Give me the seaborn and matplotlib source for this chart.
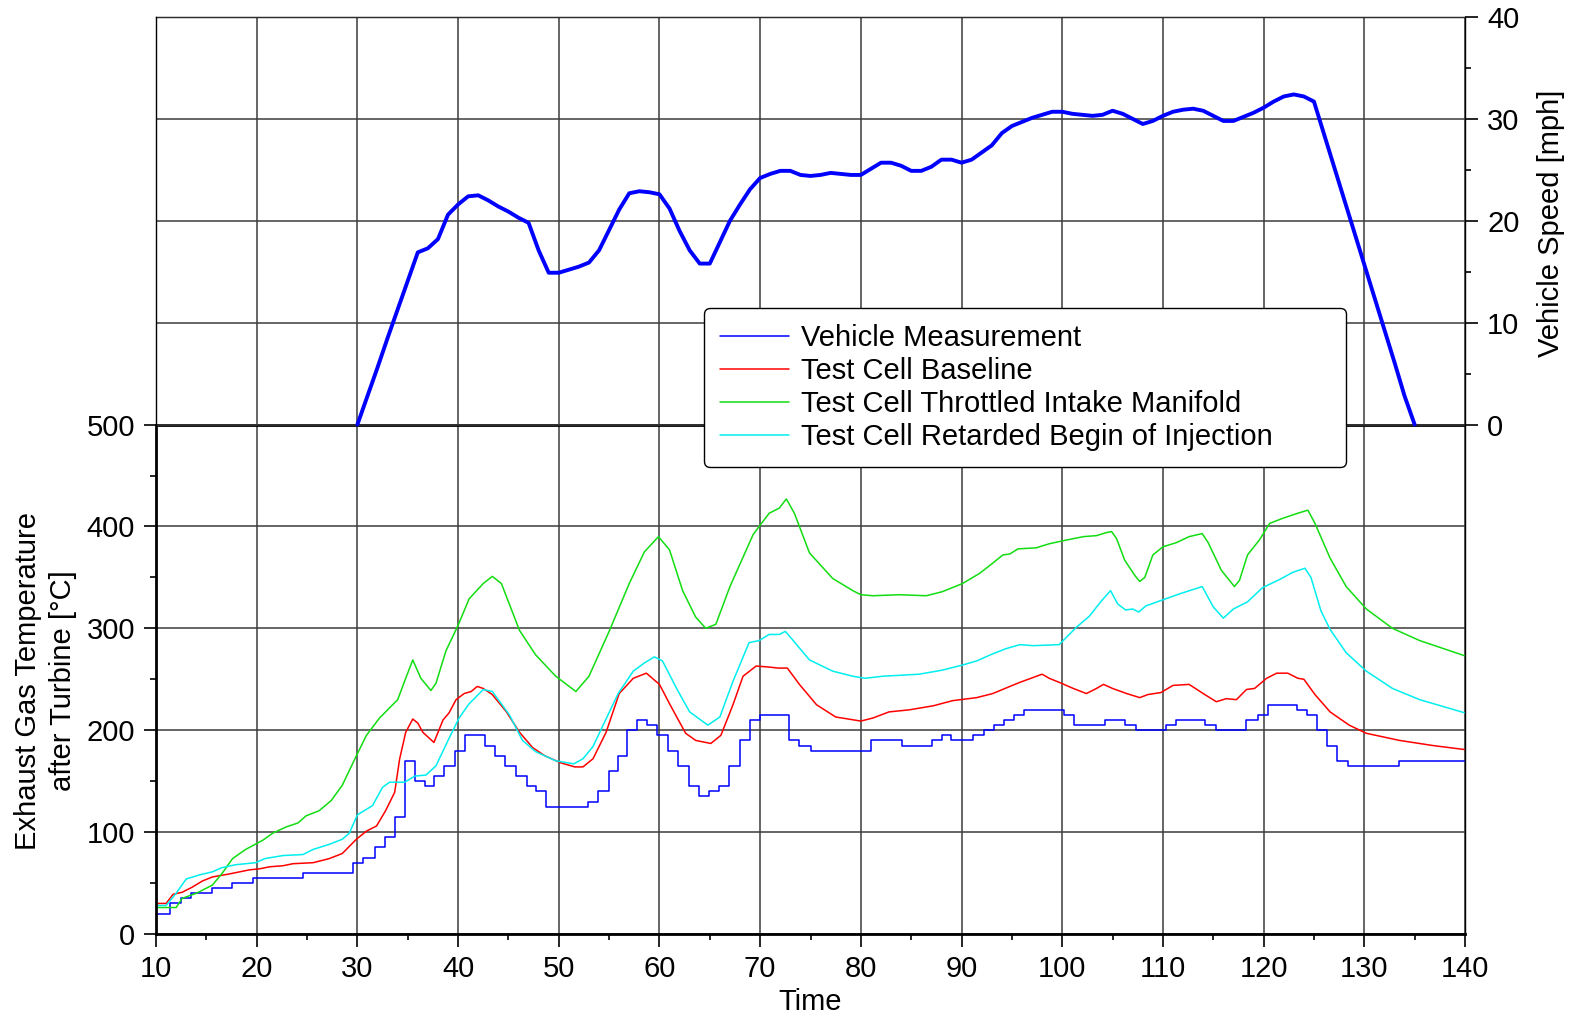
import matplotlib
matplotlib.use('Agg')
import matplotlib.pyplot as plt
import seaborn as sns
from matplotlib.ticker import MultipleLocator, FixedLocator

# ---- data ----
# vehicle speed [mph], one sample per second, t = 30 .. 135
speed_time = list(range(30, 136))
speed_mph = [0.0, 2.8, 5.6, 8.5, 11.3, 14.1, 16.9, 17.3, 18.2, 20.6,
             21.6, 22.4, 22.5, 22.0, 21.4, 20.9, 20.3, 19.8, 17.1, 14.9,
             14.9, 15.2, 15.5, 15.9, 17.1, 19.1, 21.1, 22.7, 22.9, 22.8,
             22.6, 21.2, 19.0, 17.1, 15.8, 15.8, 17.9, 20.0, 21.6, 23.1,
             24.2, 24.6, 24.9, 24.9, 24.5, 24.4, 24.5, 24.7, 24.6, 24.5,
             24.5, 25.1, 25.7, 25.7, 25.4, 24.9, 24.9, 25.3, 26.0, 26.0,
             25.7, 26.0, 26.7, 27.4, 28.6, 29.3, 29.7, 30.1, 30.4, 30.7,
             30.7, 30.5, 30.4, 30.3, 30.4, 30.8, 30.5, 30.0, 29.5, 29.8,
             30.3, 30.7, 30.9, 31.0, 30.8, 30.3, 29.8, 29.8, 30.2, 30.6,
             31.1, 31.7, 32.2, 32.4, 32.2, 31.7, 28.5, 25.3, 22.1, 18.9,
             15.7, 12.5, 9.3, 6.1, 2.8, 0.0]

# vehicle measurement exhaust temperature (stepped signal, value holds until next time)
veh_time = [10, 11.4, 12.5, 13.5, 15.6, 17.5, 19.6, 24.6, 29.6, 30.6,
            31.7, 32.7, 33.7, 34.7, 35.7, 36.7, 37.6, 38.6, 39.7, 40.7,
            42.7, 43.7, 44.7, 45.8, 46.8, 47.7, 48.7, 52.9, 53.9, 55.0,
            55.9, 56.8, 57.8, 58.8, 59.8, 60.8, 61.8, 62.9, 63.9, 64.9,
            65.9, 66.9, 68.0, 69.0, 70.0, 72.9, 73.9, 75.0, 81.0, 84.1,
            87.1, 88.1, 89.0, 91.1, 92.2, 93.2, 94.2, 95.2, 96.2, 100.2,
            101.2, 104.2, 106.2, 107.3, 110.3, 111.3, 114.2, 115.3, 118.3, 119.4,
            120.4, 123.3, 124.3, 125.3, 126.3, 127.3, 128.4, 133.4, 140]
veh_temp = [20, 30, 35, 40, 45, 50, 55, 60, 70, 75,
            85, 95, 115, 170, 150, 145, 155, 165, 180, 195,
            185, 175, 165, 155, 145, 140, 125, 130, 140, 160,
            175, 200, 210, 205, 195, 180, 165, 145, 135, 140,
            145, 165, 190, 210, 215, 190, 185, 180, 190, 185,
            190, 195, 190, 195, 200, 205, 210, 215, 220, 215,
            205, 210, 205, 200, 205, 210, 205, 200, 210, 215,
            225, 220, 215, 200, 185, 170, 165, 170, 170]

base_time = [10, 11, 11.7, 12.6, 13.6, 14.6, 15.6, 17.3, 19.3, 20.3,
             21.3, 22.6, 23.6, 25.6, 27.2, 28.5, 29.9, 30.9, 31.9, 32.8,
             33.7, 34.2, 34.8, 35.5, 36.0, 36.5, 37.6, 38.5, 39.1, 39.8,
             40.6, 41.3, 41.9, 42.5, 43.4, 44.8, 46.1, 47.4, 48.6, 50.2,
             51.6, 52.4, 53.4, 54.7, 56.0, 57.4, 58.7, 60.0, 61.0, 62.6,
             63.6, 65.1, 66.1, 67.3, 68.3, 69.6, 70.9, 71.8, 72.7, 73.9,
             75.6, 77.5, 80.0, 81.2, 82.8, 84.8, 87.2, 89.1, 91.5, 93.1,
             94.8, 95.8, 98.0, 98.7, 99.7, 101.1, 102.4, 103.4, 104.1, 105.0,
             106.4, 107.7, 108.5, 109.8, 111.0, 112.6, 114.0, 115.3, 116.3, 117.3,
             118.3, 119.1, 120.3, 121.3, 122.4, 123.4, 124.0, 125.1, 126.6, 128.5,
             130.2, 133.5, 136.8, 140]
base_temp = [30, 30, 39, 41, 46, 52, 56, 59, 63, 64,
             66, 67, 69, 70, 74, 79, 93, 101, 106, 121,
             139, 172, 198, 211, 207, 198, 188, 210, 217, 230,
             236, 238, 243, 241, 235, 218, 198, 183, 175, 168,
             164, 164, 172, 198, 236, 251, 256, 245, 226, 197,
             190, 187, 195, 225, 253, 263, 262, 261, 261, 245,
             225, 213, 209, 212, 218, 220, 224, 229, 232, 236,
             243, 247, 255, 251, 247, 241, 236, 241, 245, 241,
             236, 232, 235, 237, 244, 245, 236, 228, 231, 230,
             240, 241, 251, 256, 256, 251, 250, 235, 218, 205,
             197, 190, 185, 181]

thr_time = [10, 12, 12.6, 14.0, 15.6, 16.6, 17.6, 18.9, 20.6, 21.6,
            22.9, 24.1, 24.9, 26.2, 27.4, 28.5, 29.9, 30.9, 32.2, 34.0,
            34.8, 35.5, 36.3, 37.3, 37.8, 38.8, 40.0, 41.1, 42.5, 43.4,
            44.3, 46.1, 47.7, 49.7, 51.7, 53.0, 55.0, 57.0, 58.5, 59.9,
            61.0, 62.3, 63.6, 64.6, 65.6, 67.0, 69.3, 69.9, 70.9, 71.9,
            72.6, 73.4, 74.9, 77.2, 79.2, 80.0, 81.2, 83.8, 86.5, 88.1,
            90.1, 91.8, 93.1, 94.1, 94.8, 95.6, 97.4, 98.7, 100.1, 102.1,
            103.4, 104.4, 104.9, 105.4, 106.2, 107.2, 107.7, 108.2, 109.0, 110.0,
            111.3, 112.6, 113.9, 114.5, 115.8, 117.1, 117.6, 118.4, 119.6, 120.6,
            121.9, 123.4, 124.4, 125.1, 126.6, 128.2, 130.2, 132.8, 135.5, 140]
thr_temp = [26, 26, 35, 40, 48, 60, 74, 83, 92, 99,
            105, 109, 116, 121, 131, 146, 175, 195, 212, 230,
            251, 269, 251, 239, 246, 278, 303, 329, 344, 351,
            344, 298, 274, 253, 238, 253, 297, 344, 375, 390,
            377, 337, 311, 300, 304, 341, 392, 400, 413, 418,
            427, 413, 374, 349, 337, 333, 332, 333, 332, 336,
            344, 354, 364, 372, 373, 378, 379, 383, 386, 390,
            391, 394, 395, 388, 367, 352, 346, 350, 372, 380,
            384, 390, 393, 384, 357, 341, 347, 372, 387, 403,
            408, 413, 416, 403, 369, 341, 319, 300, 288, 273]

ret_time = [10, 11, 12, 13, 14.3, 15.6, 16.5, 17.9, 19.9, 20.8,
            22.6, 24.6, 25.6, 27.2, 28.5, 29.2, 30.0, 31.5, 32.5, 33.2,
            34.7, 35.7, 36.8, 37.8, 39.1, 40.1, 41.1, 42.5, 43.4, 45.1,
            46.4, 47.7, 49.7, 51.5, 52.4, 53.4, 54.5, 55.9, 57.4, 58.5,
            59.5, 60.3, 61.7, 63.0, 64.8, 66.0, 67.3, 68.9, 69.9, 70.9,
            71.9, 72.5, 73.2, 74.9, 77.2, 79.2, 80.4, 82.2, 85.8, 88.1,
            90.1, 91.5, 93.1, 94.4, 95.8, 97.1, 99.7, 101.4, 102.7, 103.9,
            104.8, 105.5, 106.3, 107.0, 107.6, 108.3, 110.0, 111.7, 113.9, 115.0,
            116.0, 117.0, 118.4, 119.9, 121.6, 122.9, 124.1, 124.7, 125.7, 126.6,
            128.2, 130.2, 132.8, 135.5, 140]
ret_temp = [28, 28, 40, 54, 58, 61, 65, 68, 70, 74,
            77, 78, 83, 88, 93, 99, 117, 126, 144, 149,
            149, 155, 156, 165, 192, 212, 226, 240, 238, 215,
            190, 179, 170, 167, 172, 184, 207, 236, 258, 266,
            272, 268, 241, 218, 205, 213, 248, 286, 288, 294,
            294, 297, 289, 269, 258, 253, 251, 253, 255, 259,
            264, 268, 275, 280, 284, 283, 284, 301, 312, 327,
            337, 324, 318, 319, 316, 322, 328, 334, 341, 321,
            310, 319, 326, 340, 348, 355, 359, 350, 317, 299,
            276, 258, 241, 230, 217]

labels = ['Vehicle Measurement', 'Test Cell Baseline',
          'Test Cell Throttled Intake Manifold', 'Test Cell Retarded Begin of Injection']

# ---- style ----
sns.set_style('ticks')
plt.rcParams['font.family'] = ['Liberation Sans', 'DejaVu Sans']
plt.rcParams['text.color'] = 'black'
plt.rcParams['axes.labelcolor'] = 'black'
plt.rcParams['xtick.color'] = 'black'
plt.rcParams['ytick.color'] = 'black'
plt.rcParams['axes.edgecolor'] = 'black'

FS = 21

fig = plt.figure(figsize=(15.79, 10.18), dpi=100)
ax = fig.add_axes([0.0988, 0.0825, 0.829, 0.9008])
ax2 = ax.twinx()

# temperature curves
sns.lineplot(x=veh_time, y=veh_temp, ax=ax, color='#0000FF', lw=1.1,
             drawstyle='steps-post', label=labels[0])
sns.lineplot(x=base_time, y=base_temp, ax=ax, color='#FF0000', lw=1.1, label=labels[1])
sns.lineplot(x=thr_time, y=thr_temp, ax=ax, color='#11DD11', lw=1.1, label=labels[2])
sns.lineplot(x=ret_time, y=ret_temp, ax=ax, color='#00EEEE', lw=1.1, label=labels[3])

# vehicle speed on the right axis
sns.lineplot(x=speed_time, y=speed_mph, ax=ax2, color='#0000FF', lw=2.8, legend=False)

grid_kw = dict(color='#3c3c3c', lw=1.1)

ax.set_xlim(10, 140)
ax.set_ylim(0, 900)
ax.xaxis.set_major_locator(MultipleLocator(10))
ax.xaxis.set_minor_locator(MultipleLocator(5))
ax.yaxis.set_major_locator(FixedLocator([0, 100, 200, 300, 400, 500]))
ax.yaxis.set_minor_locator(FixedLocator([50, 150, 250, 350, 450]))
ax.tick_params(axis='both', which='major', direction='out', length=9, width=1.2,
               labelsize=FS, pad=6, bottom=True, left=True, right=False, top=False)
ax.tick_params(axis='both', which='minor', direction='out', length=4, width=1.2,
               bottom=True, left=True, right=False, top=False)
ax.grid(True, which='major', axis='both', **grid_kw)
ax.set_axisbelow(True)
ax.axhline(500, color='black', lw=2.0, zorder=1)

ax.spines['left'].set_bounds(0, 500)
ax.spines['left'].set_linewidth(2.0)
ax.spines['bottom'].set_linewidth(2.0)
ax.spines['top'].set_linewidth(1.0)
ax.spines['right'].set_visible(False)

ax2.set_ylim(-50, 40)
ax2.yaxis.set_major_locator(FixedLocator([0, 10, 20, 30, 40]))
ax2.yaxis.set_minor_locator(FixedLocator([5, 15, 25, 35]))
ax2.tick_params(axis='y', which='major', direction='out', length=9, width=1.2,
                labelsize=FS, pad=7, right=True)
ax2.tick_params(axis='y', which='minor', direction='out', length=4, width=1.2, right=True)
ax2.grid(True, which='major', axis='y', **grid_kw)
ax2.set_axisbelow(True)
ax2.spines['left'].set_bounds(0, 40)
ax2.spines['left'].set_linewidth(1.0)
ax2.spines['right'].set_linewidth(1.0)
ax2.spines['top'].set_visible(False)
ax2.spines['bottom'].set_visible(False)

# axis labels
ax.set_xlabel('Time', fontsize=FS, va='center')
ax.xaxis.set_label_coords(0.5, -0.074)
ax.set_ylabel('Exhaust Gas Temperature\nafter Turbine [°C]', fontsize=FS,
              va='center', linespacing=1.3)
ax.yaxis.set_label_coords(-0.0845, 0.276)
ax2.set_ylabel('Vehicle Speed [mph]', fontsize=FS, va='center')
ax2.yaxis.set_label_coords(1.0657, 0.775)

# legend (on the top axes so the grid stays behind it)
handles, hl = ax.get_legend_handles_labels()
if ax.get_legend() is not None:
    ax.get_legend().remove()
leg = ax2.legend(handles, hl, loc='upper left',
                 bbox_to_anchor=(0.4186, 0.507, 0.4905, 0.1757), mode='expand',
                 borderaxespad=0, fontsize=FS, handlelength=2.37, handletextpad=0.4,
                 borderpad=0.55, labelspacing=0.17, frameon=True, fancybox=True,
                 framealpha=1, edgecolor='black')
leg.get_frame().set_linewidth(1.0)
leg.set_zorder(10)

fig.savefig('out.png', dpi=100, facecolor='white')
